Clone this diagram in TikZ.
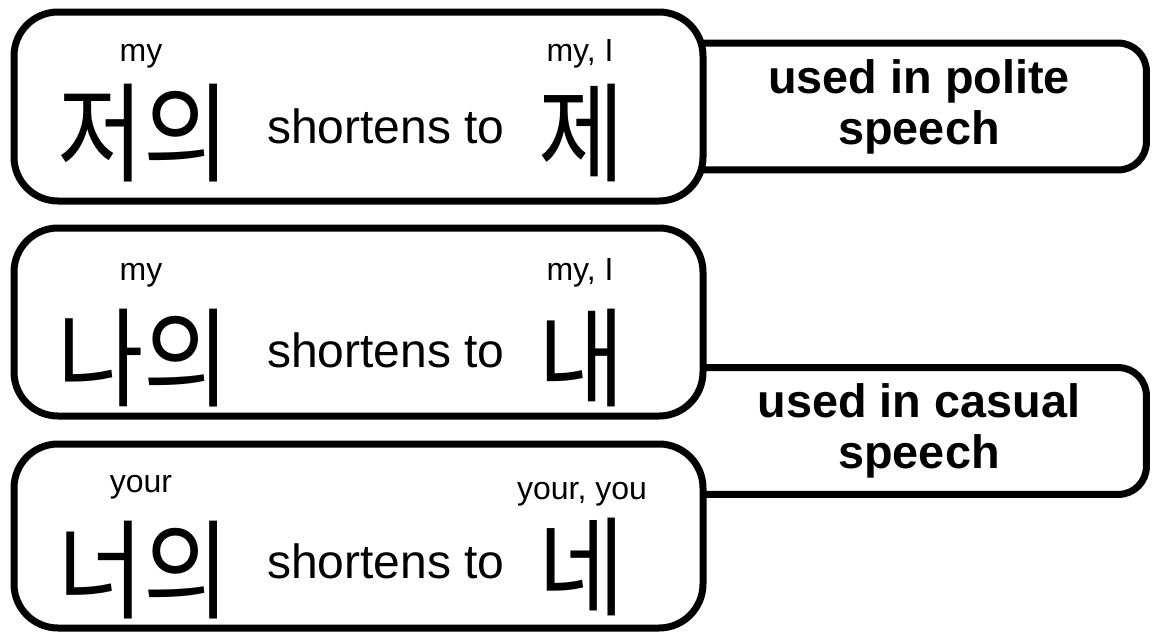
\documentclass[tikz,border=0pt]{standalone}
\usepackage{fontspec}
\setmainfont{Liberation Sans}
\newfontfamily\krfont{Noto Sans CJK KR}

\begin{document}
\begin{tikzpicture}[
  x=0.5pt, y=-0.5pt,
  card/.style={draw, line width=3.5pt, rounded corners=22pt, fill=white,
               minimum width=344.5pt, inner sep=0pt},
  tag/.style={minimum width=227pt, minimum height=63pt, align=center,
              font=\fontsize{23.4}{25.5}\selectfont\bfseries},
  tagline/.style={line width=3.5pt, rounded corners=14pt},
  hangul/.style={font=\krfont\fontsize{47}{47}\selectfont, anchor=base, inner sep=0pt},
  verb/.style={font=\fontsize{24}{24}\selectfont, anchor=base, inner sep=0pt},
  gloss/.style={font=\fontsize{16}{16}\selectfont, anchor=base, inner sep=0pt}
]
\useasboundingbox (0,0) rectangle (1153,633);
\newcommand{\tall}[1]{\scalebox{1}[1.15]{#1}}

%% usage tags (open on the left, behind the cards)
\node[tag] (polite) at (919,106.5) {used in polite\\speech};
\draw[tagline] (polite.north west) -- (polite.north east)
  -- (polite.south east) -- (polite.south west);
\node[tag] (casual) at (919,431) {used in casual\\speech};
\draw[tagline] (casual.north west) -- (casual.north east)
  -- (casual.south east) -- (casual.south west);

%% cards
\node[card, minimum height=94.5pt] (c1) at (358.5,106.5) {};
\node[card, minimum height=94pt]   (c2) at (358.5,322) {};
\node[card, minimum height=92pt]   (c3) at (358.5,536) {};

%% first card
\node[gloss]  (g1a) at (141,61) {my};
\node[gloss]  (g1b) at (580,61) {my, I};
\node[hangul] (k1a) at (144,173.5) {\tall{저의}};
\node[verb]   (s1)  at (386,143) {shortens to};
\node[hangul] (k1b) at (582,173.5) {\tall{제}};

%% second card
\node[gloss]  (g2a) at (141,280) {my};
\node[gloss]  (g2b) at (580,280) {my, I};
\node[hangul] (k2a) at (144,398) {\tall{나의}};
\node[verb]   (s2)  at (386,367) {shortens to};
\node[hangul] (k2b) at (582,398) {\tall{내}};

%% third card
\node[gloss]  (g3a) at (141,492) {your};
\node[gloss]  (g3b) at (582,499) {your, you};
\node[hangul] (k3a) at (144,610) {\tall{너의}};
\node[verb]   (s3)  at (386,578) {shortens to};
\node[hangul] (k3b) at (582,607) {\tall{네}};
\end{tikzpicture}
\end{document}
